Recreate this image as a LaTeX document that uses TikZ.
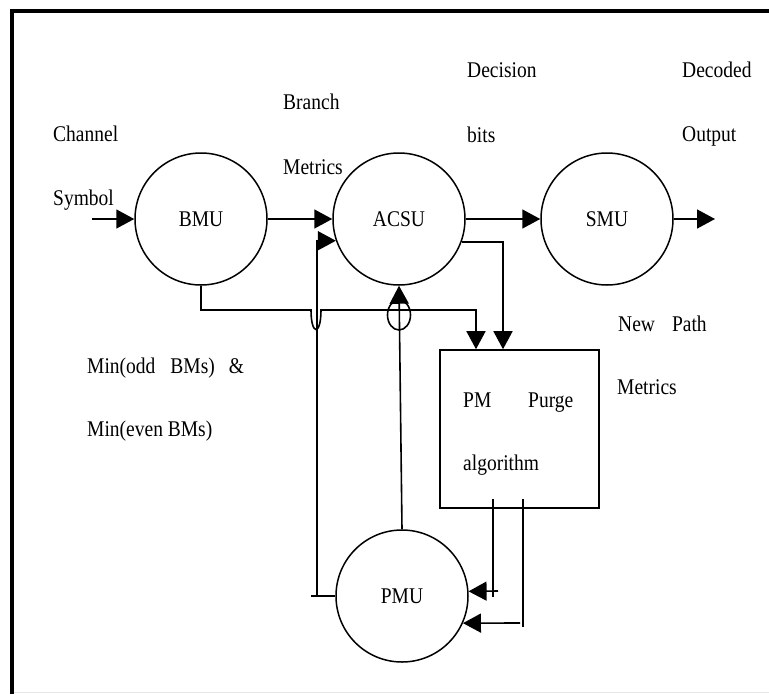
\documentclass[tikz,border=0pt]{standalone}
\usepackage{fontspec}
\setmainfont{Liberation Serif}
\usetikzlibrary{arrows.meta,calc}
\newcommand\ys[1]{\scalebox{1}[1.15]{#1}}
\begin{document}
\begin{tikzpicture}[x=1pt,y=-1pt,
 unit/.style={draw,circle,line width=1.5pt,minimum size=132pt,inner sep=0pt,font=\fontsize{19.5}{23}\selectfont},
 con/.style={line width=1.6pt},
 arr/.style={con,-{Triangle[length=18pt,width=19pt]}},
 lbl/.style={inner sep=0pt,anchor=base west,font=\fontsize{19.5}{23}\selectfont}]
\useasboundingbox (0,0) rectangle (769,694);
\draw[line width=3.5pt] (12,694) -- (12,11) -- (769,11);
\draw[gray!20, line width=0.8pt] (14,692) -- (769,692);

\node[unit] (bmu) at (201,219) {\ys{BMU}};
\node[unit] (acsu) at (399,219) {\ys{ACSU}};
\node[unit] (smu) at (607,219) {\ys{SMU}};
\node[unit] (pmu) at (402,596) {\ys{PMU}};
\node[draw,line width=1.6pt,minimum width=159pt,minimum height=158pt,inner sep=0pt] (box) at (519.5,429) {};

\node[lbl] (t1) at (53,141) {\ys{Channel}};
\node[lbl] (t2) at (53,205) {\ys{Symbol}};
\node[lbl] (t3) at (283,109) {\ys{Branch}};
\node[lbl] (t4) at (283,174) {\ys{Metrics}};
\node[lbl] (t5) at (467,77) {\ys{Decision}};
\node[lbl] (t6) at (467,142) {\ys{bits}};
\node[lbl] (t7) at (682,77) {\ys{Decoded}};
\node[lbl] (t8) at (682,141) {\ys{Output}};
\node[lbl] (t9) at (618,331) {\ys{New\hspace{17pt}Path}};
\node[lbl] (t10) at (617,394) {\ys{Metrics}};
\node[lbl] (t11) at (87,373) {\ys{Min(odd\hspace{15pt}BMs)\hspace{14pt}\&}};
\node[lbl] (t12) at (87,436) {\ys{Min(even BMs)}};
\node[lbl] (t13) at (463,407) {\ys{PM}};
\node[lbl] (t14) at (528,407) {\ys{Purge}};
\node[lbl] (t15) at (463,470) {\ys{algorithm}};

\coordinate (in) at (92,219);
\coordinate (out) at (715,219);
\draw[arr] (in) -- (bmu.west);
\draw[arr] (bmu.east) -- (acsu.west);
\draw[arr] (acsu.east) -- (smu.west);
\draw[arr] (smu.east) -- (out);

\coordinate (j1) at (476,310);
\draw[arr] (bmu.south) |- (311,310) .. controls (311,336) and (321,336) .. (321,310) -- (j1) -- (j1 |- box.north);
\coordinate (j2) at (503,240);
\draw[arr] (acsu.-20) -- (acsu.-20 -| j2) -- (j2 |- box.north);

\draw[con] (pmu.west) -- ++(-24,0);
\coordinate (j3) at (317,596);
\draw[arr] (j3) |- (acsu.199);
\draw[arr] (pmu.north) -- (acsu.south);
\draw[con] (399,315) ellipse [x radius=11.5, y radius=15];

\coordinate (o1) at (493,499);
\coordinate (o2) at (523,499);
\coordinate (e1) at (498,591);
\coordinate (e2) at (520,623);
\draw[con] (o1) -- (493,597);
\draw[arr] (e1) -- (pmu.4);
\draw[con] (o2) -- (523,627);
\draw[arr] (e2) -- (pmu.-24);
\end{tikzpicture}
\end{document}
